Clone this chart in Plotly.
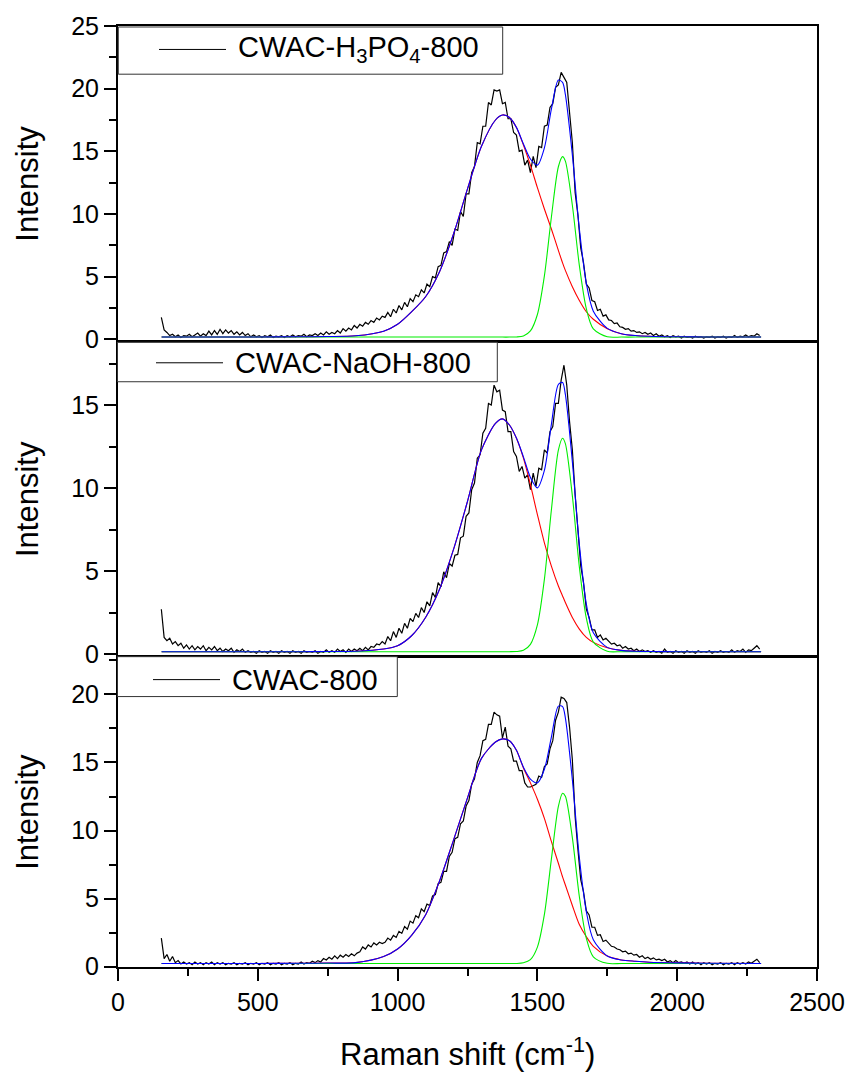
import plotly.graph_objects as go
from plotly.subplots import make_subplots

# ---------------- data ----------------
# Raman shift grid of the fitted curves (cm^-1)
FIT_X = [156, 300, 500, 650, 750, 850, 950, 1000, 1050, 1100, 1150, 1200, 1250, 1300,
         1350, 1375, 1400, 1425, 1450, 1475, 1500, 1525, 1550, 1575, 1590, 1600, 1625,
         1650, 1675, 1700, 1750, 1800, 1850, 1900, 2000, 2100, 2300]

# measured spectra start at 155 cm^-1, one reading every 10 cm^-1
RAW_START = 155
RAW_STEP = 10

# ---- CWAC-H3PO4-800 ----
H3PO4_RAW = [
    1.75, 0.75, 0.55, 0.3, 0.4, 0.2, 0.35, 0.15, 0.3, 0.25,
    0.4, 0.2, 0.35, 0.5, 0.25, 0.45, 0.3, 0.65, 0.35, 0.7,
    0.4, 0.8, 0.45, 0.75, 0.5, 0.7, 0.4, 0.6, 0.35, 0.55,
    0.3, 0.45, 0.2, 0.35, 0.2, 0.3, 0.15, 0.3, 0.2, 0.35,
    0.15, 0.25, 0.2, 0.3, 0.15, 0.3, 0.2, 0.35, 0.2, 0.3,
    0.25, 0.4, 0.2, 0.35, 0.3, 0.45, 0.3, 0.5, 0.35, 0.6,
    0.4, 0.55, 0.45, 0.7, 0.5, 0.85, 0.65, 0.9, 0.75, 1.1,
    0.9, 1.2, 1.05, 1.35, 1.2, 1.5, 1.35, 1.7, 1.55, 1.85,
    1.75, 2.15, 1.8, 2.4, 2.1, 2.7, 2.35, 2.95, 2.6, 3.25,
    3.0, 3.55, 3.4, 3.95, 3.7, 4.4, 4.2, 5.0, 4.9, 5.8,
    5.9, 6.9, 7.0, 7.8, 7.5, 8.8, 8.7, 10.2, 9.8, 11.6,
    11.6, 13.3, 13.8, 15.7, 15.6, 17.0, 17.0, 18.9, 18.7, 19.9,
    19.8, 19.9, 18.8, 18.9, 17.6, 17.6, 16.5, 16.3, 15.0, 15.1,
    13.9, 14.3, 13.3, 14.6, 13.7, 15.4, 15.3, 17.0, 17.1, 18.5,
    18.8, 20.1, 20.3, 21.3, 20.9, 20.5, 18.1, 15.7, 11.7, 9.9,
    7.3, 6.1, 4.4, 4.1, 3.1, 3.0, 2.3, 2.4, 1.85, 1.95,
    1.55, 1.5, 1.25, 1.3, 1.0, 0.95, 0.8, 0.85, 0.65, 0.7,
    0.55, 0.6, 0.45, 0.55, 0.4, 0.5, 0.3, 0.45, 0.25, 0.35,
    0.2, 0.3, 0.15, 0.3, 0.2, 0.25, 0.1, 0.25, 0.15, 0.2,
    0.1, 0.25, 0.15, 0.2, 0.1, 0.2, 0.15, 0.25, 0.1, 0.2,
    0.15, 0.25, 0.1, 0.2, 0.15, 0.3, 0.15, 0.25, 0.2, 0.35,
    0.2, 0.3, 0.25, 0.45, 0.3]
H3PO4_D = [0.18, 0.18, 0.19, 0.2, 0.22, 0.28, 0.65, 1.2, 2.2, 3.4, 5.4, 8.4, 12.0, 15.4,
           17.5, 17.9, 17.7, 16.9, 15.5, 13.9, 12.1, 10.4, 8.8, 7.1, 6.1, 5.5, 4.2,
           3.1, 2.2, 1.6, 0.85, 0.45, 0.3, 0.24, 0.2, 0.19, 0.18]
H3PO4_G = [0.18, 0.18, 0.18, 0.18, 0.18, 0.18, 0.18, 0.18, 0.18, 0.18, 0.18, 0.18, 0.18, 0.18,
           0.18, 0.18, 0.18, 0.19, 0.27, 0.67, 1.98, 5.06, 9.74, 13.77, 14.58, 14.22, 10.7,
           5.9, 2.44, 0.83, 0.2, 0.18, 0.18, 0.18, 0.18, 0.18, 0.18]
H3PO4_FIT = [0.18, 0.18, 0.19, 0.2, 0.22, 0.28, 0.65, 1.2, 2.2, 3.4, 5.4, 8.4, 12.0, 15.4,
             17.5, 17.9, 17.7, 16.91, 15.59, 14.39, 13.9, 15.28, 18.36, 20.69, 20.5, 19.54, 14.72,
             8.82, 4.46, 2.25, 0.87, 0.45, 0.3, 0.24, 0.2, 0.19, 0.18]

# ---- CWAC-NaOH-800 ----
NAOH_RAW = [
    2.7, 1.0, 0.8, 0.95, 0.6, 0.75, 0.5, 0.65, 0.35, 0.55,
    0.3, 0.5, 0.25, 0.45, 0.3, 0.5, 0.2, 0.4, 0.25, 0.45,
    0.2, 0.35, 0.15, 0.3, 0.2, 0.35, 0.1, 0.25, 0.15, 0.3,
    0.1, 0.2, 0.1, 0.15, 0.05, 0.2, 0.1, 0.15, 0.05, 0.2,
    0.1, 0.15, 0.05, 0.2, 0.1, 0.15, 0.05, 0.2, 0.1, 0.15,
    0.05, 0.2, 0.1, 0.15, 0.1, 0.2, 0.05, 0.15, 0.1, 0.25,
    0.1, 0.2, 0.1, 0.3, 0.15, 0.25, 0.1, 0.3, 0.15, 0.3,
    0.2, 0.35, 0.2, 0.4, 0.25, 0.45, 0.4, 0.6, 0.55, 0.75,
    0.6, 1.05, 0.8, 1.35, 1.0, 1.55, 1.25, 1.85, 1.55, 2.15,
    1.95, 2.45, 2.2, 2.8, 2.5, 3.15, 2.9, 3.7, 3.4, 4.3,
    4.05, 4.95, 4.6, 5.45, 5.3, 5.95, 6.0, 7.0, 7.1, 8.3,
    8.5, 9.9, 10.3, 11.8, 12.0, 13.3, 13.6, 15.1, 15.0, 16.2,
    15.8, 15.9, 14.7, 14.6, 13.4, 13.4, 12.2, 11.9, 11.0, 11.3,
    10.6, 10.8, 9.9, 10.9, 10.1, 11.2, 11.1, 12.3, 12.1, 13.4,
    13.7, 15.1, 15.1, 16.5, 17.4, 16.2, 14.0, 12.3, 9.6, 7.7,
    5.3, 4.3, 2.7, 2.2, 1.45, 1.45, 1.0, 1.15, 0.85, 0.95,
    0.75, 0.6, 0.65, 0.5, 0.55, 0.35, 0.45, 0.3, 0.35, 0.2,
    0.3, 0.15, 0.25, 0.15, 0.2, 0.1, 0.2, 0.1, 0.15, 0.05,
    0.3, 0.1, 0.15, 0.05, 0.2, 0.1, 0.15, 0.05, 0.2, 0.1,
    0.15, 0.05, 0.2, 0.1, 0.15, 0.1, 0.2, 0.05, 0.15, 0.1,
    0.2, 0.1, 0.15, 0.1, 0.25, 0.1, 0.2, 0.15, 0.3, 0.1,
    0.25, 0.2, 0.35, 0.5, 0.3]
NAOH_D = [0.14, 0.14, 0.14, 0.14, 0.15, 0.17, 0.3, 0.5, 1.1, 2.2, 3.9, 6.3, 9.2, 12.3,
          13.9, 14.17, 13.8, 13.0, 11.8, 10.2, 8.4, 6.7, 5.3, 4.1, 3.5, 3.1, 2.2,
          1.5, 1.0, 0.7, 0.38, 0.22, 0.17, 0.15, 0.14, 0.14, 0.14]
NAOH_G = [0.14, 0.14, 0.14, 0.14, 0.14, 0.14, 0.14, 0.14, 0.14, 0.14, 0.14, 0.14, 0.14, 0.14,
          0.14, 0.14, 0.14, 0.15, 0.22, 0.58, 1.75, 4.5, 8.68, 12.28, 13.0, 12.68, 9.53,
          5.25, 2.16, 0.72, 0.16, 0.14, 0.14, 0.14, 0.14, 0.14, 0.14]
NAOH_FIT = [0.14, 0.14, 0.14, 0.14, 0.15, 0.17, 0.3, 0.5, 1.1, 2.2, 3.9, 6.3, 9.2, 12.3,
            13.9, 14.17, 13.8, 13.01, 11.88, 10.64, 10.01, 11.06, 13.84, 16.24, 16.36, 15.64, 11.59,
            6.61, 3.02, 1.28, 0.4, 0.22, 0.17, 0.15, 0.14, 0.14, 0.14]

# ---- CWAC-800 ----
CWAC_RAW = [
    2.1, 0.6, 0.9, 0.4, 0.75, 0.3, 0.45, 0.2, 0.35, 0.2,
    0.3, 0.15, 0.35, 0.2, 0.3, 0.15, 0.3, 0.2, 0.35, 0.15,
    0.3, 0.2, 0.3, 0.15, 0.25, 0.2, 0.3, 0.15, 0.25, 0.2,
    0.3, 0.15, 0.25, 0.2, 0.3, 0.15, 0.25, 0.2, 0.3, 0.15,
    0.25, 0.2, 0.3, 0.15, 0.25, 0.2, 0.3, 0.15, 0.25, 0.2,
    0.35, 0.2, 0.3, 0.25, 0.4, 0.3, 0.45, 0.35, 0.6, 0.5,
    0.7, 0.55, 0.8, 0.6, 0.85, 0.7, 0.9, 0.75, 0.95, 0.8,
    1.0, 1.1, 1.45, 1.3, 1.6, 1.45, 1.75, 1.6, 1.8, 1.7,
    1.8, 2.1, 1.95, 2.3, 2.15, 2.6, 2.45, 2.95, 2.75, 3.35,
    3.2, 3.75, 3.6, 4.25, 4.05, 4.6, 4.5, 5.2, 5.3, 6.1,
    6.2, 7.0, 7.0, 8.1, 8.4, 9.4, 9.5, 10.5, 10.7, 11.8,
    12.2, 13.4, 13.8, 15.0, 15.5, 16.6, 16.7, 17.8, 17.8, 18.7,
    18.5, 18.4, 16.8, 17.6, 16.2, 16.0, 15.1, 15.1, 14.4, 14.4,
    13.5, 13.2, 13.2, 13.3, 13.4, 14.0, 13.9, 14.7, 14.9, 16.0,
    16.6, 18.1, 18.7, 19.8, 19.7, 19.4, 17.6, 15.2, 11.0, 8.6,
    6.4, 5.5, 4.1, 3.8, 2.9, 2.9, 2.3, 2.35, 1.85, 1.95,
    1.7, 1.5, 1.45, 1.3, 1.25, 1.1, 1.15, 0.95, 1.0, 0.85,
    0.9, 0.7, 0.8, 0.6, 0.7, 0.55, 0.65, 0.5, 0.55, 0.45,
    0.55, 0.35, 0.45, 0.3, 0.45, 0.3, 0.35, 0.25, 0.35, 0.2,
    0.35, 0.2, 0.3, 0.15, 0.3, 0.2, 0.3, 0.15, 0.25, 0.2,
    0.3, 0.15, 0.25, 0.2, 0.3, 0.15, 0.3, 0.2, 0.3, 0.2,
    0.35, 0.25, 0.4, 0.55, 0.3]
CWAC_D = [0.24, 0.24, 0.24, 0.25, 0.27, 0.3, 0.75, 1.3, 2.3, 3.8, 6.3, 9.3, 12.4, 15.3,
          16.5, 16.73, 16.6, 15.9, 14.6, 13.5, 12.3, 10.9, 9.2, 7.6, 6.6, 6.0, 4.5,
          3.1, 2.2, 1.5, 0.78, 0.5, 0.4, 0.33, 0.28, 0.26, 0.24]
CWAC_G = [0.24, 0.24, 0.24, 0.24, 0.24, 0.24, 0.24, 0.24, 0.24, 0.24, 0.24, 0.24, 0.24, 0.24,
          0.24, 0.24, 0.24, 0.24, 0.29, 0.52, 1.44, 3.84, 7.9, 11.78, 12.74, 12.52, 9.48,
          5.16, 2.09, 0.73, 0.25, 0.24, 0.24, 0.24, 0.24, 0.24, 0.24]
CWAC_FIT = [0.24, 0.24, 0.24, 0.25, 0.27, 0.3, 0.75, 1.3, 2.3, 3.8, 6.3, 9.3, 12.4, 15.3,
            16.5, 16.73, 16.6, 15.9, 14.65, 13.78, 13.5, 14.5, 16.86, 19.14, 19.1, 18.28, 13.74,
            8.02, 4.05, 1.99, 0.79, 0.5, 0.4, 0.33, 0.28, 0.26, 0.24]

LABELS = ["CWAC-H<sub>3</sub>PO<sub>4</sub>-800", "CWAC-NaOH-800", "CWAC-800"]
X_TICKS = [0, 500, 1000, 1500, 2000, 2500]

# ---------------- layout geometry ----------------
W, H = 861, 1077
ML, MR, MT, MB = 118, 44, 24, 110
PW, PH = W - ML - MR, H - MT - MB


def fy(py):  # pixel row -> paper y
    return (H - MB - py) / PH


def fx(px):  # pixel column -> paper x
    return (px - ML) / PW


panels = [
    dict(raw=H3PO4_RAW, d=H3PO4_D, g=H3PO4_G, fit=H3PO4_FIT, yr=[-0.16, 25.0],
         top=24, bot=340,
         box=(118.3, 25, 502.7, 72.3), line=(159, 226, 47.5), tx=236),
    dict(raw=NAOH_RAW, d=NAOH_D, g=NAOH_G, fit=NAOH_FIT, yr=[-0.1, 18.78],
         top=341, bot=655,
         box=(117.5, 341, 497.3, 380.5), line=(156, 223, 361.5), tx=233),
    dict(raw=CWAC_RAW, d=CWAC_D, g=CWAC_G, fit=CWAC_FIT, yr=[-0.02, 22.77],
         top=656, bot=967,
         box=(117.5, 656, 397.3, 696), line=(153, 220, 679), tx=229.5),
]

FONT = "Arial, 'Liberation Sans', sans-serif"

fig = make_subplots(rows=3, cols=1, vertical_spacing=0)

for i, p in enumerate(panels, start=1):
    xs = [RAW_START + RAW_STEP * k for k in range(len(p["raw"]))]
    fig.add_trace(go.Scatter(x=xs, y=p["raw"], mode="lines",
                             line=dict(color="black", width=1.2)), row=i, col=1)
    fig.add_trace(go.Scatter(x=FIT_X, y=p["d"], mode="lines",
                             line=dict(color="#FF0000", width=1.1, shape="spline", smoothing=0.8)),
                  row=i, col=1)
    fig.add_trace(go.Scatter(x=FIT_X, y=p["g"], mode="lines",
                             line=dict(color="#00EE00", width=1.1, shape="spline", smoothing=0.8)),
                  row=i, col=1)
    fig.add_trace(go.Scatter(x=FIT_X, y=p["fit"], mode="lines",
                             line=dict(color="#0000FF", width=1.1, shape="spline", smoothing=0.8)),
                  row=i, col=1)

    xa = dict(range=[0, 2500], showline=True, linewidth=2, linecolor="black", mirror=True,
              showgrid=False, zeroline=False, domain=[0, 1])
    if i == 3:
        xa.update(ticks="outside", ticklen=12, tickwidth=2, tickcolor="black",
                  tickmode="array", tickvals=X_TICKS, ticktext=[str(v) for v in X_TICKS],
                  minor=dict(ticks="outside", ticklen=7, tickwidth=2, tickcolor="black", dtick=250),
                  tickfont=dict(size=25, color="black", family=FONT), showticklabels=True)
    else:
        xa.update(ticks="", showticklabels=False)
    fig.update_xaxes(xa, row=i, col=1)

    fig.update_yaxes(dict(range=p["yr"], domain=[fy(p["bot"]), fy(p["top"])],
                          showline=True, linewidth=2, linecolor="black", mirror=True,
                          showgrid=False, zeroline=False,
                          ticks="outside", ticklen=12, tickwidth=2, tickcolor="black",
                          tick0=0, dtick=5,
                          minor=dict(ticks="outside", ticklen=7, tickwidth=2, tickcolor="black",
                                     dtick=2.5, tick0=0),
                          tickfont=dict(size=25, color="black", family=FONT)),
                     row=i, col=1)

    # y title
    fig.add_annotation(xref="paper", yref="paper", x=fx(28), y=fy((p["top"] + p["bot"]) / 2),
                       text="Intensity", textangle=-90, showarrow=False,
                       xanchor="center", yanchor="middle",
                       font=dict(size=31, color="black", family=FONT))

    # legend box
    x0, y0, x1, y1 = p["box"]
    fig.add_shape(type="rect", xref="paper", yref="paper",
                  x0=fx(x0), x1=fx(x1), y0=fy(y1), y1=fy(y0),
                  line=dict(color="#333333", width=1), fillcolor="white", layer="above")
    lx0, lx1, ly = p["line"]
    fig.add_shape(type="line", xref="paper", yref="paper",
                  x0=fx(lx0), x1=fx(lx1), y0=fy(ly), y1=fy(ly),
                  line=dict(color="black", width=1), layer="above")
    fig.add_annotation(xref="paper", yref="paper", x=fx(p["tx"]), y=fy(ly),
                       text=LABELS[i - 1], showarrow=False, xanchor="left", yanchor="middle",
                       font=dict(size=29, color="black", family=FONT))

# x title
fig.add_annotation(xref="paper", yref="paper", x=fx(467), y=fy(1052),
                   text="Raman shift (cm<sup>-1</sup>)", showarrow=False,
                   xanchor="center", yanchor="middle",
                   font=dict(size=31, color="black", family=FONT))

fig.update_layout(width=W, height=H, margin=dict(l=ML, r=MR, t=MT, b=MB),
                  plot_bgcolor="white", paper_bgcolor="white", showlegend=False,
                  font=dict(family=FONT, color="black"))

fig.write_html("out.html")
